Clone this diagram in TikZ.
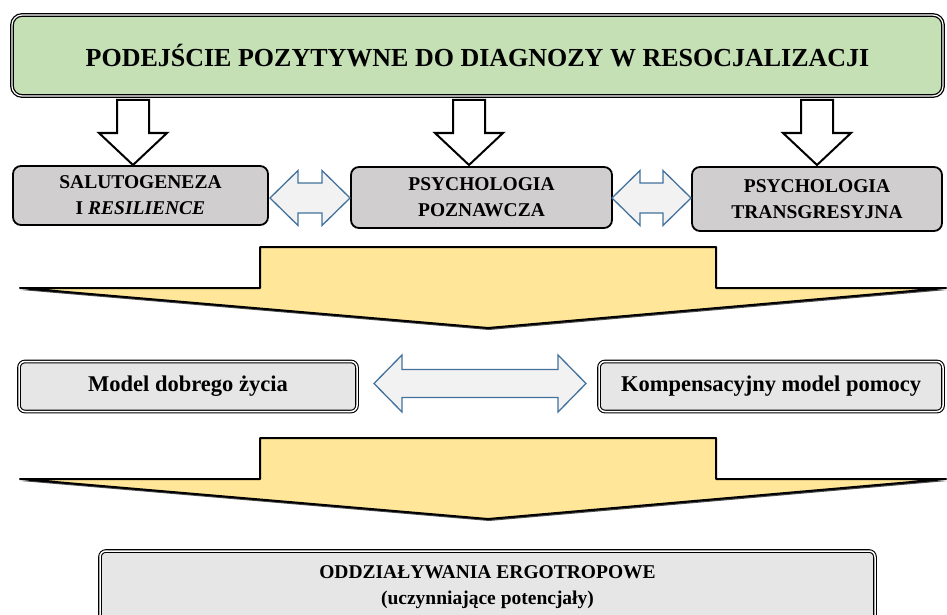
\documentclass[tikz,border=0pt]{standalone}
\usepackage{fontspec}
\setmainfont{Liberation Serif}
\usetikzlibrary{positioning}

\definecolor{titlegreen}{HTML}{C5E0B4}
\definecolor{sourcegray}{HTML}{D0CECE}
\definecolor{modelgray}{HTML}{E7E6E6}
\definecolor{bigyellow}{HTML}{FFE699}
\definecolor{linkblue}{HTML}{41719C}
\definecolor{linkfill}{HTML}{F2F2F2}

\tikzset{
  titlebox/.style={draw, rounded corners=10pt, line width=1.3pt, double=white,
    double distance=1.2pt, fill=titlegreen, minimum width=931pt, minimum height=81pt,
    font=\fontsize{26}{30}\selectfont\bfseries},
  sourcebox/.style={draw, rounded corners=8pt, line width=1.8pt, fill=sourcegray,
    align=center, font=\fontsize{19.5}{26}\selectfont\bfseries},
  modelbox/.style={draw, rounded corners=6pt, line width=1.1pt, double=white,
    double distance=1.5pt, fill=modelgray, align=center,
    font=\fontsize{22.5}{27}\selectfont\bfseries},
  hollow/.style={draw, line width=2pt, fill=white, line join=miter},
  twoway/.style={draw=linkblue, line width=1.3pt, fill=linkfill, line join=miter},
  bigarrow/.style={draw, line width=2pt, fill=bigyellow, line join=round}
}

\begin{document}
\begin{tikzpicture}[x=1pt,y=-1pt]
  \useasboundingbox (0,0) rectangle (947,615);

  % naglowek
  \node[titlebox] (title) at (477.5,55.5) {PODEJŚCIE POZYTYWNE DO DIAGNOZY W RESOCJALIZACJI};

  % strzalki w dol
  \foreach \x in {133,469,817} {
    \draw[hollow] (\x-16,100) -- (\x+16,100) -- (\x+16,133) -- (\x+34,133)
      -- (\x,165) -- (\x-34,133) -- (\x-16,133) -- cycle;
  }

  % trzy zrodla
  \node[sourcebox, minimum width=255pt, minimum height=59pt] (salut) at (140.5,195.5)
    {SALUTOGENEZA\\I \textit{RESILIENCE}};
  \node[sourcebox, minimum width=261pt, minimum height=61pt] (poznaw) at (481.5,197.5)
    {PSYCHOLOGIA\\POZNAWCZA};
  \node[sourcebox, minimum width=250pt, minimum height=64pt] (transg) at (817,199)
    {PSYCHOLOGIA\\TRANSGRESYJNA};

  % strzalki dwustronne
  \foreach \xl/\xr/\yc/\hh/\hs in {270/350/198/27.5/15, 612/691/198/27.5/15, 374/586/383.5/28.5/14} {
    \draw[twoway] (\xl,\yc) -- (\xl+28,\yc-\hh) -- (\xl+28,\yc-\hs) -- (\xr-28,\yc-\hs)
      -- (\xr-28,\yc-\hh) -- (\xr,\yc) -- (\xr-28,\yc+\hh) -- (\xr-28,\yc+\hs)
      -- (\xl+28,\yc+\hs) -- (\xl+28,\yc+\hh) -- cycle;
  }

  % duze strzalki
  \foreach \y in {247,438} {
    \fill[black!70, xshift=1pt, yshift=-2pt] (20,\y+41) -- (488,\y+81) -- (946,\y+41) -- cycle;
    \draw[bigarrow] (260,\y) -- (716,\y) -- (716,\y+41) -- (946,\y+41) -- (488,\y+81)
      -- (20,\y+41) -- (260,\y+41) -- cycle;
  }

  % modele
  \node[modelbox, minimum width=338pt, minimum height=50pt] (dobre) at (188,386.5)
    {Model dobrego życia};
  \node[modelbox, minimum width=344pt, minimum height=50pt] (kompens) at (771,386.5)
    {Kompensacyjny model pomocy};

  % oddzialywania
  \node[modelbox, minimum width=775pt, minimum height=73pt,
    font=\fontsize{19.5}{26}\selectfont\bfseries] (ergo) at (487.5,587.5)
    {ODDZIAŁYWANIA ERGOTROPOWE\\(uczynniające potencjały)};
\end{tikzpicture}
\end{document}
